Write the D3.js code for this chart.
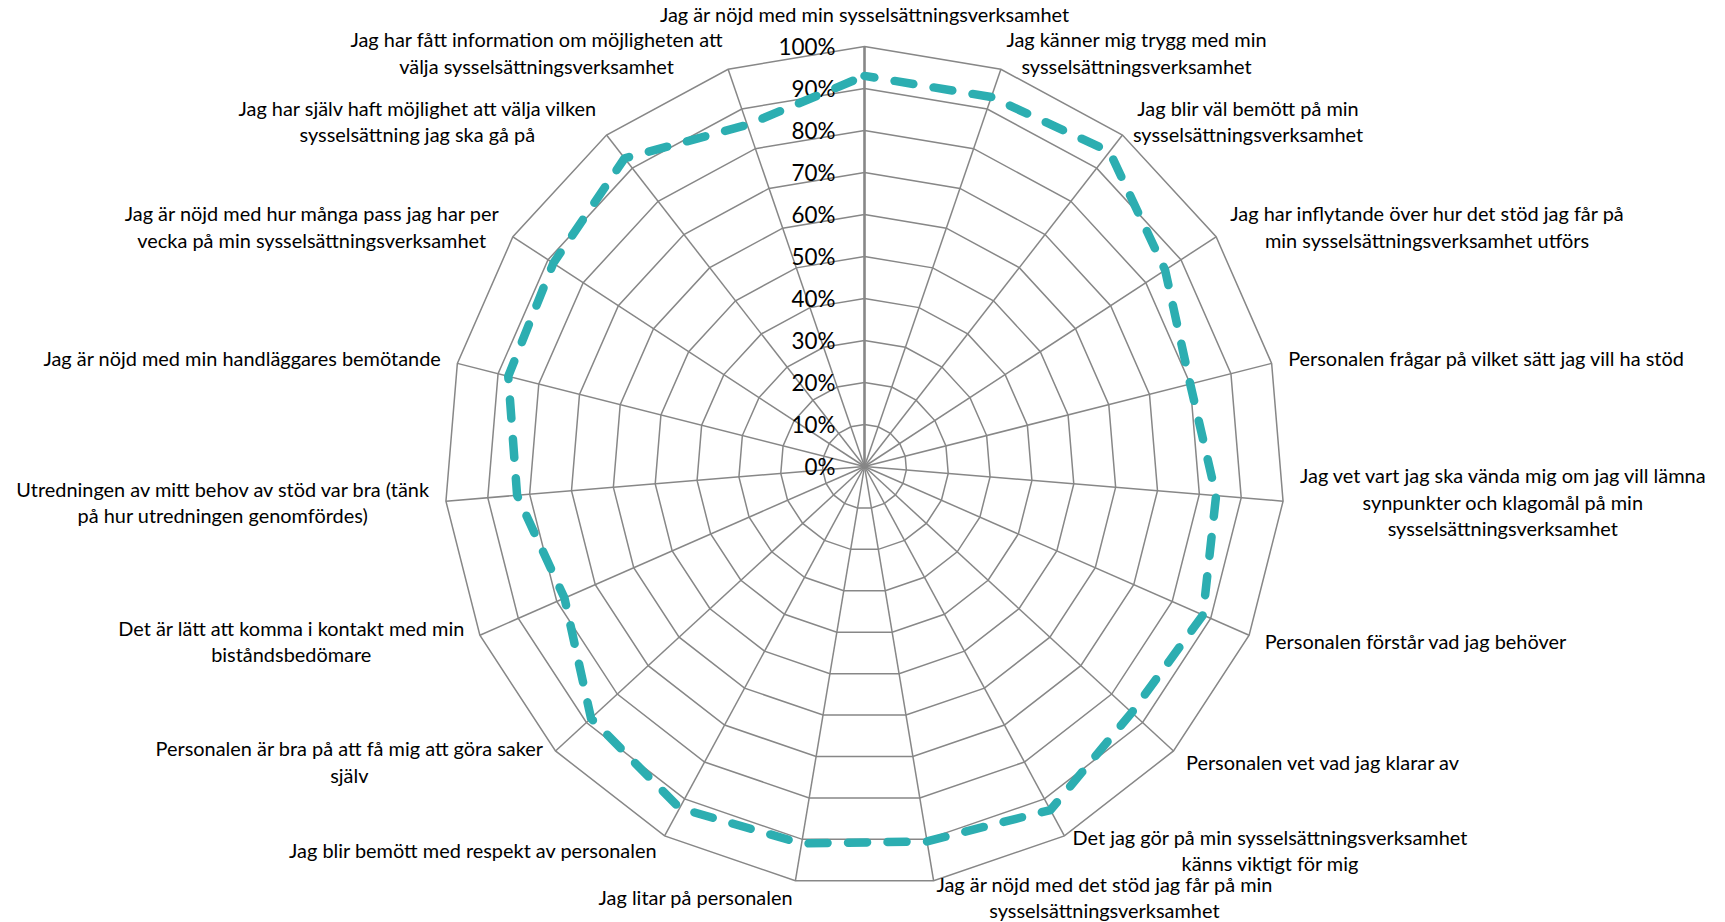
<!DOCTYPE html>
<html>
<head>
<meta charset="utf-8">
<script src="https://cdn.jsdelivr.net/npm/d3@7"></script>
<style>
  html, body { margin: 0; padding: 0; background: #ffffff; }
  svg { display: block; }
</style>
</head>
<body>
<svg id="chart" width="1725" height="922"></svg>
<script>
// ---------- DATA ----------
const categories = [
  ["Jag är nöjd med min sysselsättningsverksamhet"],
  ["Jag känner mig trygg med min", "sysselsättningsverksamhet"],
  ["Jag blir väl bemött på min", "sysselsättningsverksamhet"],
  ["Jag har inflytande över hur det stöd jag får på", "min sysselsättningsverksamhet utförs"],
  ["Personalen frågar på vilket sätt jag vill ha stöd"],
  ["Jag vet vart jag ska vända mig om jag vill lämna", "synpunkter och klagomål på min", "sysselsättningsverksamhet"],
  ["Personalen förstår vad jag behöver"],
  ["Personalen vet vad jag klarar av"],
  ["Det jag gör på min sysselsättningsverksamhet", "känns viktigt för mig"],
  ["Jag är nöjd med det stöd jag får på min", "sysselsättningsverksamhet"],
  ["Jag litar på personalen"],
  ["Jag blir bemött med respekt av personalen"],
  ["Personalen är bra på att få mig att göra saker", "själv"],
  ["Det är lätt att komma i kontakt med min", "biståndsbedömare"],
  ["Utredningen av mitt behov av stöd var bra (tänk", "på hur utredningen genomfördes)"],
  ["Jag är nöjd med min handläggares bemötande"],
  ["Jag är nöjd med hur många pass jag har per", "vecka på min sysselsättningsverksamhet"],
  ["Jag har själv haft möjlighet att välja vilken", "sysselsättning jag ska gå på"],
  ["Jag har fått information om möjligheten att", "välja sysselsättningsverksamhet"]
];
const values = [93, 93, 95, 85.5, 80, 84, 88, 86.5, 93, 90.5, 91, 92.5, 88.5, 78, 83, 87.5, 88.5, 93, 86];
const ticks = [0, 10, 20, 30, 40, 50, 60, 70, 80, 90, 100];
const tickLabels = ["0%", "10%", "20%", "30%", "40%", "50%", "60%", "70%", "80%", "90%", "100%"];

// ---------- LAYOUT / STYLE ----------
const W = 1725, H = 922;
const cx = 864.5, cy = 466.5, R = 420;
const gridColor = "#878787";
const lineColor = "#2CAEB1";
const fontFamily = "Lato, 'Open Sans', 'DejaVu Sans', sans-serif";
const lineHeight = 26.4;
const labelGap = 17;

const svg = d3.select("#chart");
const n = categories.length;

const rScale = d3.scaleLinear().domain([0, 100]).range([0, R]);
const aScale = d3.scaleLinear().domain([0, n]).range([0, 2 * Math.PI]);

// measure helper to fit fonts to reference widths
function measure(text, size) {
  const t = svg.append("text").attr("font-family", fontFamily).attr("font-size", size).text(text);
  const w = t.node().getComputedTextLength();
  t.remove();
  return w;
}
const catFont = 100 * 396 / measure("Personalen frågar på vilket sätt jag vill ha stöd", 100);
const tickFont = 100 * 57 / measure("100%", 100);

const g = svg.append("g").attr("transform", `translate(${cx},${cy})`);

// rings
const ring = d3.lineRadial()
  .angle((d, i) => aScale(i))
  .radius(d => rScale(d))
  .curve(d3.curveLinearClosed);

g.append("g").selectAll("path")
  .data(ticks.filter(t => t > 0))
  .join("path")
  .attr("d", t => ring(d3.range(n).map(() => t)))
  .attr("fill", "none")
  .attr("stroke", gridColor)
  .attr("stroke-width", 1.5);

// spokes
g.append("g").selectAll("line")
  .data(d3.range(n))
  .join("line")
  .attr("x1", 0).attr("y1", 0)
  .attr("x2", i => rScale(100) * Math.sin(aScale(i)))
  .attr("y2", i => -rScale(100) * Math.cos(aScale(i)))
  .attr("stroke", gridColor)
  .attr("stroke-width", i => i === 0 ? 2.6 : 1.5);

// tick labels along the vertical axis
g.append("g").selectAll("text")
  .data(ticks)
  .join("text")
  .attr("x", -29)
  .attr("y", t => -rScale(t))
  .attr("dy", "0.36em")
  .attr("text-anchor", "end")
  .attr("font-family", fontFamily)
  .attr("font-size", tickFont)
  .attr("fill", "#000")
  .text((t, i) => tickLabels[i]);

// data line
const dataLine = d3.lineRadial()
  .angle((d, i) => aScale(i))
  .radius(d => rScale(d))
  .curve(d3.curveLinearClosed);

g.append("path")
  .datum(values)
  .attr("d", dataLine)
  .attr("fill", "none")
  .attr("stroke", lineColor)
  .attr("stroke-width", 8.5)
  .attr("stroke-linecap", "round")
  .attr("stroke-linejoin", "round")
  .attr("stroke-dasharray", "19 20.5")
  .attr("stroke-dashoffset", 9);

// category labels
const labels = g.append("g");
categories.forEach((lines, i) => {
  const a = aScale(i);
  const s = Math.sin(a), c = Math.cos(a);
  const px = (rScale(100) + labelGap) * s;
  const py = -(rScale(100) + labelGap) * c;
  const maxW = d3.max(lines, l => measure(l, catFont));
  let xc, yc;
  const h = lines.length * lineHeight;
  if (Math.abs(s) < 0.05) {
    xc = px;
    yc = c > 0 ? py - h / 2 - 1.5 : py + h / 2;
  } else {
    xc = s > 0 ? px + maxW / 2 : px - maxW / 2;
    yc = py;
  }
  const t = labels.append("text")
    .attr("text-anchor", "middle")
    .attr("font-family", fontFamily)
    .attr("font-size", catFont)
    .attr("fill", "#000");
  lines.forEach((l, k) => {
    t.append("tspan")
      .attr("x", xc)
      .attr("y", yc + (k - (lines.length - 1) / 2) * lineHeight)
      .attr("dy", "0.36em")
      .text(l);
  });
});
</script>
</body>
</html>
